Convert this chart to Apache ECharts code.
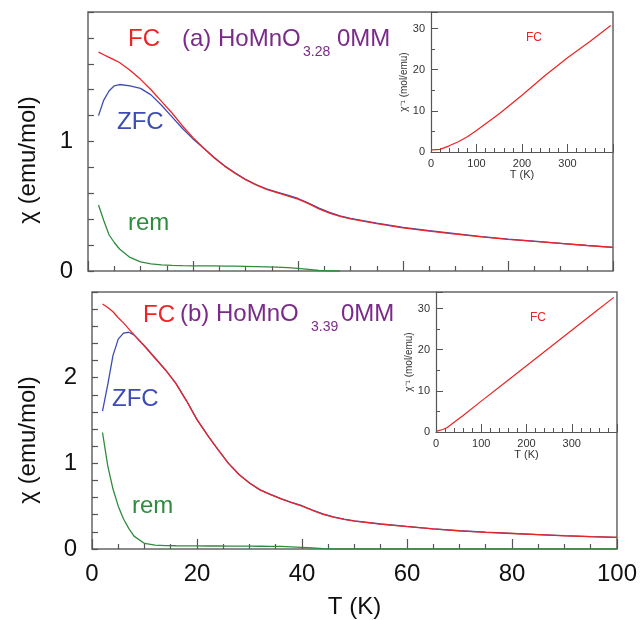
<!DOCTYPE html>
<html>
<head>
<meta charset="utf-8">
<script src="https://cdn.jsdelivr.net/npm/echarts@6/dist/echarts.min.js"></script>
<style>
html,body{margin:0;padding:0;background:#fff;}
#chart{width:640px;height:620px;}
</style>
</head>
<body>
<div id="chart"></div>
<script>
// panel (a) HoMnO3.28
var tempA = [2,3,4,5,6,8,10,12,14,16,18,20,22,24,26,28,30,32,34,36,38,40,42,44,46,48,50,55,60,65,70,75,80,85,90,95,100];
var fcA  = [1.69,1.67,1.65,1.63,1.61,1.55,1.48,1.40,1.31,1.22,1.12,1.03,0.95,0.875,0.81,0.755,0.705,0.665,0.63,0.605,0.58,0.555,0.52,0.48,0.447,0.422,0.402,0.365,0.333,0.308,0.285,0.264,0.244,0.228,0.213,0.197,0.182];
var zfcA = [1.20,1.32,1.39,1.43,1.44,1.43,1.41,1.36,1.28,1.19,1.10,1.02,0.95,0.878,0.813,0.758,0.708,0.668,0.635,0.61,0.585,0.56,0.525,0.485,0.452,0.426,0.406,0.37,0.337,0.311,0.288,0.266,0.246,0.23,0.214,0.198,0.183];
var remA = [0.51,0.39,0.28,0.22,0.17,0.105,0.07,0.055,0.047,0.043,0.041,0.04,0.039,0.039,0.038,0.037,0.036,0.034,0.032,0.03,0.026,0.02,0.012,0.004,0,0,null,null,null,null,null,null,null,null,null,null,null];

// panel (b) HoMnO3.39
var tempB = [2,3,4,5,6,7,8,10,12,14,16,18,20,22,24,26,28,30,32,34,36,38,40,42,44,46,48,50,55,60,65,70,75,80,85,90,95,100];
var fcB  = [2.86,2.82,2.77,2.70,2.64,2.57,2.50,2.37,2.23,2.09,1.93,1.73,1.51,1.33,1.16,1.00,0.87,0.77,0.69,0.635,0.585,0.54,0.50,0.45,0.405,0.372,0.347,0.326,0.29,0.262,0.235,0.212,0.195,0.181,0.167,0.154,0.144,0.135];
var zfcB = [1.61,1.92,2.26,2.45,2.52,2.53,2.50,2.37,2.23,2.09,1.93,1.73,1.51,1.33,1.16,1.00,0.87,0.77,0.69,0.638,0.588,0.544,0.505,0.455,0.41,0.375,0.35,0.328,0.292,0.263,0.236,0.213,0.196,0.182,0.168,0.155,0.145,0.136];
var remB = [1.36,0.97,0.70,0.50,0.35,0.24,0.15,0.065,0.045,0.04,0.038,0.037,0.036,0.035,0.035,0.034,0.034,0.033,0.032,0.031,0.03,0.025,0.02,0.012,0.004,0,0,0,0,0,0,0,0,0,0,0,0,0];

// insets: inverse susceptibility (FC)
var insetTempA = [2,20,40,60,80,100,150,200,250,300,350,395];
var invA = [0.5,0.65,1.5,2.5,3.7,5.2,9.3,13.8,18.5,22.9,26.9,30.7];
var insetTempB = [2,15,25,37,60,100,150,200,250,300,350,393];
var invB = [0.2,0.6,1.1,2.1,4.0,7.5,11.8,16.1,20.4,24.7,29.0,32.7];

var mainTicksX = [0,20,40,60,80,100];

var RED = '#ec2424', BLUE = '#3c4cb4', GREEN = '#2f8c3c', PURPLE = '#7a2a88';
var FONT = 'Liberation Sans, Arial, sans-serif';

function pairs(xs, ys){
    var out = [];
    for(var i=0;i<xs.length;i++){
        if(ys[i]!==null) out.push([xs[i], ys[i]]);
    }
    return out;
}

function mainX(grid, showLabel){
    return {
        type:'value', gridIndex:grid, min:mainTicksX[0], max:mainTicksX[mainTicksX.length-1], interval:20,
        axisLine:{show:false},
        axisTick:{show:true, inside:true, length:10, lineStyle:{color:'#555', width:1.2}},
        minorTick:{show:true, splitNumber:4, length:5, lineStyle:{color:'#555', width:1.2}},
        splitLine:{show:false},
        axisLabel:{show:showLabel, fontSize:24, color:'#111', margin:13, fontFamily:FONT},
        name: showLabel ? 'T (K)' : '',
        nameLocation:'middle', nameGap:46,
        nameTextStyle:{fontSize:24, color:'#111', fontFamily:FONT}
    };
}
function mainY(grid, max){
    return {
        type:'value', gridIndex:grid, min:0, max:max, interval:1,
        axisLine:{show:false},
        axisTick:{show:true, inside:true, length:6, lineStyle:{color:'#555', width:1.2}},
        minorTick:{show:true, splitNumber:5, length:6, lineStyle:{color:'#555', width:1.2}},
        splitLine:{show:false},
        axisLabel:{fontSize:24, color:'#111', margin:15, fontFamily:FONT, showMaxLabel:false}
    };
}
function insetX(grid){
    return {
        type:'value', gridIndex:grid, min:0, max:400, interval:100,
        axisLine:{show:true, lineStyle:{color:'#555', width:1.2}},
        axisTick:{show:true, inside:true, length:8, lineStyle:{color:'#555'}},
        minorTick:{show:true, splitNumber:5, length:4, lineStyle:{color:'#555'}},
        splitLine:{show:false},
        axisLabel:{fontSize:11, color:'#333', margin:6, fontFamily:FONT, showMaxLabel:false},
        name:'T (K)', nameLocation:'middle', nameGap:17,
        nameTextStyle:{fontSize:11, color:'#333', fontFamily:FONT}
    };
}
function insetY(grid){
    return {
        type:'value', gridIndex:grid, min:0, max:34, interval:10,
        axisLine:{show:true, lineStyle:{color:'#555', width:1.2}},
        axisTick:{show:true, inside:true, length:7, lineStyle:{color:'#555'}},
        minorTick:{show:true, splitNumber:2, length:4, lineStyle:{color:'#555'}},
        splitLine:{show:false},
        axisLabel:{fontSize:11, color:'#333', margin:6, fontFamily:FONT, showMaxLabel:false},
        name:'χ⁻¹ (mol/emu)', nameLocation:'middle', nameGap:20, nameRotate:90,
        nameTextStyle:{fontSize:10, color:'#333', fontFamily:FONT}
    };
}
function line(name, x, y, data, color, width){
    return {
        name:name, type:'line', xAxisIndex:x, yAxisIndex:y, data:data,
        showSymbol:false, smooth:false,
        lineStyle:{color:color, width:width||1.3}, itemStyle:{color:color},
        silent:true, animation:false
    };
}
function label(text, x, y, size, color){
    return {type:'text', x:x, y:y, style:{text:text, fontSize:size, fill:color, fontFamily:FONT, textVerticalAlign:'middle'}};
}
function yName(x, y){
    return {type:'text', x:x, y:y, rotation:Math.PI/2,
        style:{text:'χ (emu/mol)', fontSize:24, fill:'#111', fontFamily:FONT, textAlign:'center', textVerticalAlign:'middle'}};
}

var myChart = echarts.init(document.getElementById('chart'));
var option = {
    backgroundColor:'#fff',
    animation:false,
    grid:[
        {left:88, top:12, width:525, height:259, show:true, borderColor:'#666', borderWidth:1.5, backgroundColor:'transparent'},
        {left:92, top:292, width:525, height:258, show:true, borderColor:'#666', borderWidth:1.5, backgroundColor:'transparent'},
        {left:431, top:12, width:182, height:140},
        {left:436, top:292, width:181, height:140}
    ],
    xAxis:[mainX(0,false), mainX(1,true), insetX(2), insetX(3)],
    yAxis:[mainY(0,2), mainY(1,3), insetY(2), insetY(3)],
    series:[
        line('ZFC a',0,0,pairs(tempA,zfcA),BLUE),
        line('FC a',0,0,pairs(tempA,fcA),RED),
        line('rem a',0,0,pairs(tempA,remA),GREEN),
        line('ZFC b',1,1,pairs(tempB,zfcB),BLUE),
        line('FC b',1,1,pairs(tempB,fcB),RED),
        line('rem b',1,1,pairs(tempB,remB),GREEN),
        line('inv a',2,2,pairs(insetTempA,invA),RED,1.2),
        line('inv b',3,3,pairs(insetTempB,invB),RED,1.2)
    ],
    graphic:[
        yName(28,160),
        yName(28,440),
        label('FC',128,39,24,RED),
        label('(a) HoMnO',182,39,24,PURPLE),
        label('3.28',303,52,14,PURPLE),
        label('0MM',337,39,24,PURPLE),
        label('ZFC',117,122,24,BLUE),
        label('rem',128,223,24,GREEN),
        label('FC',143,315,24,RED),
        label('(b) HoMnO',180,314,24,PURPLE),
        label('3.39',311,327,14,PURPLE),
        label('0MM',341,314,24,PURPLE),
        label('ZFC',112,399,24,BLUE),
        label('rem',132,506,24,GREEN),
        label('FC',526,38,12,RED),
        label('FC',530,318,12,RED)
    ]
};
myChart.setOption(option);
</script>
</body>
</html>
